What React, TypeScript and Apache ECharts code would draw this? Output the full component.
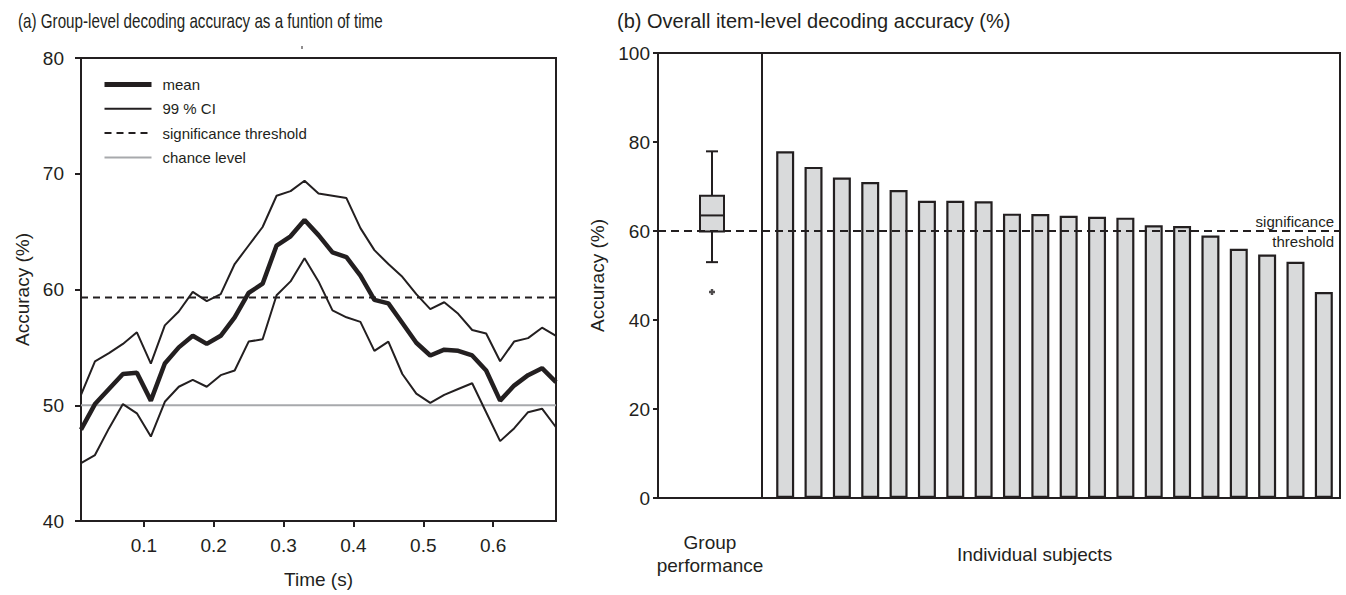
import React, { useEffect, useRef } from "react";
import * as echarts from "echarts";

// ---- Panel (a): group-level decoding accuracy over time ----
const times = [0.01, 0.03, 0.05, 0.07, 0.09, 0.11, 0.13, 0.15, 0.17, 0.19, 0.21, 0.23, 0.25, 0.27, 0.29, 0.31, 0.33, 0.35, 0.37, 0.39, 0.41, 0.43, 0.45, 0.47, 0.49, 0.51, 0.53, 0.55, 0.57, 0.59, 0.61, 0.63, 0.65, 0.67, 0.69];
const meanAcc = [47.9, 50.1, 51.4, 52.7, 52.8, 50.4, 53.6, 55.0, 56.0, 55.3, 56.0, 57.6, 59.7, 60.5, 63.8, 64.6, 66.0, 64.7, 63.2, 62.8, 61.2, 59.1, 58.8, 57.1, 55.4, 54.3, 54.8, 54.7, 54.3, 53.0, 50.4, 51.7, 52.6, 53.2, 52.0];
const ciUpper = [50.9, 53.8, 54.5, 55.3, 56.3, 53.6, 56.9, 58.1, 59.8, 59.0, 59.6, 62.2, 63.8, 65.4, 68.1, 68.5, 69.4, 68.3, 68.1, 67.9, 65.3, 63.4, 62.2, 61.1, 59.6, 58.3, 58.9, 57.9, 56.5, 56.2, 53.8, 55.5, 55.8, 56.7, 56.0];
const ciLower = [45.0, 45.7, 48.0, 50.1, 49.3, 47.3, 50.3, 51.6, 52.2, 51.6, 52.6, 53.0, 55.5, 55.7, 59.5, 60.7, 62.7, 60.7, 58.2, 57.6, 57.2, 54.7, 55.5, 52.7, 51.0, 50.2, 50.9, 51.4, 51.9, 49.4, 46.9, 48.0, 49.4, 49.7, 48.1];
const thresholdA = 59.3;
const chanceLevel = 50;
const timeTicks = [0.1, 0.2, 0.3, 0.4, 0.5, 0.6];

// ---- Panel (b): item-level decoding accuracy ----
const groupCategory = ["Group\nperformance"];
// [lower whisker, Q1, median, Q3, upper whisker]
const groupBox = [53.0, 59.9, 63.5, 67.9, 77.9];
const groupOutliers = [46.3];
const subjects = ["S1", "S2", "S3", "S4", "S5", "S6", "S7", "S8", "S9", "S10", "S11", "S12", "S13", "S14", "S15", "S16", "S17", "S18", "S19", "S20"];
const subjectAcc = [77.9, 74.4, 72.0, 71.0, 69.2, 66.8, 66.8, 66.7, 63.9, 63.8, 63.4, 63.2, 63.0, 61.3, 61.1, 59.0, 56.0, 54.7, 53.1, 46.3];
const thresholdB = 60;

const INK = "#231f20";
const GREY = "#a7a9ac";
const FONT = '"Liberation Sans", Arial, Helvetica, sans-serif';

export default function App() {
  const ref = useRef<HTMLDivElement>(null);

  useEffect(() => {
    document.body.style.margin = "0";
    const chart = echarts.init(ref.current!, null, { renderer: "svg" });

    const axisLine = { show: true, lineStyle: { color: INK, width: 2 } };
    const tickOut = (len: number) => ({ show: true, inside: false, length: len, lineStyle: { color: INK, width: 2 } });

    const option: any = {
      animation: false,
      backgroundColor: "#ffffff",
      textStyle: { fontFamily: FONT, color: INK },
      grid: [
        { left: 81, top: 58, width: 475, height: 463, show: true, borderColor: INK, borderWidth: 2 },
        { left: 658, top: 53, width: 682, height: 445, show: true, borderColor: INK, borderWidth: 2 },
        { left: 658, top: 53, width: 104, height: 445, show: true, borderColor: INK, borderWidth: 2 },
        { left: 771, top: 53, width: 567, height: 445 },
      ],
      xAxis: [
        {
          type: "value", gridIndex: 0, min: times[0], max: times[times.length - 1],
          axisLine, splitLine: { show: false },
          axisTick: { ...tickOut(6), customValues: timeTicks },
          axisLabel: { customValues: timeTicks, formatter: (v: number) => v.toFixed(1), fontSize: 19, color: INK, margin: 15, fontFamily: FONT },
          name: "Time (s)", nameLocation: "middle", nameGap: 49,
          nameTextStyle: { fontSize: 19, color: INK, fontFamily: FONT },
        },
        { type: "value", gridIndex: 1, min: 0, max: 1, show: false },
        {
          type: "category", gridIndex: 2, data: groupCategory,
          axisLine, axisTick: { show: false },
          axisLabel: { fontSize: 19, color: INK, margin: 33, lineHeight: 23, fontFamily: FONT },
        },
        {
          type: "category", gridIndex: 3, data: subjects,
          axisLine: { show: false }, axisTick: { show: false }, axisLabel: { show: false },
          name: "Individual subjects", nameLocation: "middle", nameGap: 47,
          nameTextStyle: { fontSize: 19, color: INK, fontFamily: FONT, padding: [0, 40, 0, 0] },
        },
      ],
      yAxis: [
        {
          type: "value", gridIndex: 0, min: 40, max: 80, interval: 10,
          axisLine, axisTick: tickOut(6), splitLine: { show: false },
          axisLabel: { fontSize: 19, color: INK, margin: 17, fontFamily: FONT },
          name: "Accuracy (%)", nameLocation: "middle", nameGap: 49,
          nameTextStyle: { fontSize: 19, color: INK, fontFamily: FONT },
        },
        {
          type: "value", gridIndex: 1, min: 0, max: 100, interval: 20,
          axisLine, axisTick: tickOut(5), splitLine: { show: false },
          axisLabel: { fontSize: 19, color: INK, margin: 8, fontFamily: FONT },
          name: "Accuracy (%)", nameLocation: "middle", nameGap: 37,
          nameTextStyle: { fontSize: 19, color: INK, fontFamily: FONT },
        },
        { type: "value", gridIndex: 2, min: 0, max: 100, show: false },
        { type: "value", gridIndex: 3, min: 0, max: 100, show: false },
      ],
      legend: {
        data: [
          { name: "mean", lineStyle: { width: 5, color: INK } },
          { name: "99 % CI", lineStyle: { width: 2, color: INK } },
          { name: "significance threshold", lineStyle: { width: 2, color: INK, type: [7, 5] } },
          { name: "chance level", lineStyle: { width: 2, color: GREY } },
        ],
        orient: "vertical", left: 102, top: 77, padding: 0,
        itemWidth: 47, itemHeight: 14, itemGap: 9.3,
        itemStyle: { color: "rgba(0,0,0,0)", borderWidth: 0 },
        textStyle: { fontSize: 15, color: INK, fontFamily: FONT, padding: [0, 0, 0, 6] },
        selectedMode: false,
      },
      graphic: [
        {
          type: "text", x: 18, y: 21, scaleX: 0.76,
          style: { text: "(a) Group-level decoding accuracy as a funtion of time", fontSize: 20, fontFamily: FONT, fill: INK, verticalAlign: "middle" },
        },
        {
          type: "text", x: 617, y: 21,
          style: { text: "(b) Overall item-level decoding accuracy (%)", fontSize: 20, fontFamily: FONT, fill: INK, verticalAlign: "middle" },
        },
        {
          type: "text", x: 1334, y: 221,
          style: { text: "significance", fontSize: 15, fontFamily: FONT, fill: INK, align: "right", verticalAlign: "middle" },
        },
        {
          type: "text", x: 1334, y: 241,
          style: { text: "threshold", fontSize: 15, fontFamily: FONT, fill: INK, align: "right", verticalAlign: "middle" },
        },
        { type: "line", shape: { x1: 302, y1: 46, x2: 302, y2: 49 }, style: { stroke: INK, lineWidth: 1 } },
      ],
      series: [
        {
          name: "mean", type: "line", xAxisIndex: 0, yAxisIndex: 0, symbol: "none",
          data: times.map((t, i) => [t, meanAcc[i]]),
          lineStyle: { color: INK, width: 4.5 }, itemStyle: { color: INK }, z: 6,
        },
        {
          name: "99 % CI", type: "line", xAxisIndex: 0, yAxisIndex: 0, symbol: "none",
          data: times.map((t, i) => [t, ciUpper[i]]),
          lineStyle: { color: INK, width: 2 }, itemStyle: { color: INK }, z: 5,
        },
        {
          name: "99 % CI", type: "line", xAxisIndex: 0, yAxisIndex: 0, symbol: "none",
          data: times.map((t, i) => [t, ciLower[i]]),
          lineStyle: { color: INK, width: 2 }, itemStyle: { color: INK }, z: 5,
        },
        {
          name: "significance threshold", type: "line", xAxisIndex: 0, yAxisIndex: 0, symbol: "none",
          data: [[times[0], thresholdA], [times[times.length - 1], thresholdA]],
          lineStyle: { color: INK, width: 2, type: [7, 5] }, itemStyle: { color: INK }, z: 4,
        },
        {
          name: "chance level", type: "line", xAxisIndex: 0, yAxisIndex: 0, symbol: "none",
          data: [[times[0], chanceLevel], [times[times.length - 1], chanceLevel]],
          lineStyle: { color: GREY, width: 2 }, itemStyle: { color: GREY }, z: 3,
        },
        {
          name: "Group box", type: "custom", xAxisIndex: 2, yAxisIndex: 2,
          data: [[0, ...groupBox]],
          renderItem: (params: any, api: any) => {
            const x = api.value(0);
            const lo = api.coord([x, api.value(1)]);
            const q1 = api.coord([x, api.value(2)]);
            const med = api.coord([x, api.value(3)]);
            const q3 = api.coord([x, api.value(4)]);
            const hi = api.coord([x, api.value(5)]);
            const cx = lo[0] + 2;
            const hw = 12;
            const cw = 6;
            const st = { stroke: INK, lineWidth: 2, fill: null };
            return {
              type: "group",
              children: [
                { type: "line", shape: { x1: cx, y1: hi[1], x2: cx, y2: q3[1] }, style: st },
                { type: "line", shape: { x1: cx, y1: q1[1], x2: cx, y2: lo[1] }, style: st },
                { type: "line", shape: { x1: cx - cw, y1: hi[1], x2: cx + cw, y2: hi[1] }, style: st },
                { type: "line", shape: { x1: cx - cw, y1: lo[1], x2: cx + cw, y2: lo[1] }, style: st },
                { type: "rect", shape: { x: cx - hw, y: q3[1], width: 2 * hw, height: q1[1] - q3[1] }, style: { fill: "#d9dadb", stroke: INK, lineWidth: 2 } },
                { type: "line", shape: { x1: cx - hw, y1: med[1], x2: cx + hw, y2: med[1] }, style: st },
              ],
            };
          },
          z: 3,
        },
        {
          name: "Group outliers", type: "scatter", xAxisIndex: 2, yAxisIndex: 2,
          data: groupOutliers.map((v) => [0, v]),
          symbol: "path://M1.5,0H3.5V1.5H5V3.5H3.5V5H1.5V3.5H0V1.5H1.5Z", symbolSize: 6, symbolOffset: [2, 0],
          itemStyle: { color: INK }, z: 3,
        },
        {
          name: "Individual subjects", type: "bar", xAxisIndex: 3, yAxisIndex: 3,
          data: subjectAcc, barWidth: 18,
          itemStyle: { color: "#d9dadb", borderColor: INK, borderWidth: 2.2 }, z: 2,
        },
        {
          name: "threshold (b)", type: "line", xAxisIndex: 1, yAxisIndex: 1, symbol: "none",
          data: [[0, thresholdB], [1, thresholdB]],
          lineStyle: { color: INK, width: 2, type: [8, 5] }, z: 10,
        },
      ],
    };

    chart.setOption(option);
    return () => chart.dispose();
  }, []);

  return <div ref={ref} style={{ position: "fixed", left: 0, top: 0, width: 1346, height: 595 }} />;
}
